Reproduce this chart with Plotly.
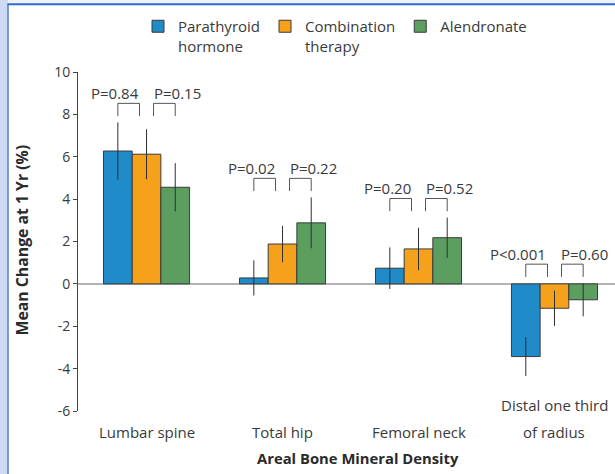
import plotly.graph_objects as go

# ---- data -----------------------------------------------------------------
categories = ["Lumbar spine", "Total hip", "Femoral neck", "Distal one third<br>of radius"]
series_names = ["Parathyroid<br>hormone", "Combination<br>therapy", "Alendronate"]

pth_values = [6.27, 0.28, 0.74, -3.43]
pth_errors = [1.35, 0.83, 0.98, 0.92]
combo_values = [6.12, 1.88, 1.65, -1.15]
combo_errors = [1.18, 0.86, 1.00, 0.83]
alen_values = [4.56, 2.88, 2.18, -0.75]
alen_errors = [1.14, 1.20, 0.95, 0.78]

p_first_pair = ["P=0.84", "P=0.02", "P=0.20", "P<0.001"]   # PTH vs combination
p_second_pair = ["P=0.15", "P=0.22", "P=0.52", "P=0.60"]  # combination vs alendronate

y_tick_values = [-6, -4, -2, 0, 2, 4, 6, 8, 10]
y_tick_labels = ["-6", "-4", "-2", "0", "2", "4", "6", "8", "10"]

x_title = "Areal Bone Mineral Density"
y_title = "Mean Change at 1 Yr (%)"

# ---- style ----------------------------------------------------------------
W, H = 615, 474
M_L, M_R, M_T, M_B = 78, 0, 72, 63
PW, PH = W - M_L - M_R, H - M_T - M_B
FONT = "Open Sans"
TXT = "#3a3a3a"
colors = ["#1f8bc9", "#f6a11c", "#5c9e5f"]
BARGAP = 0.367
bar_w = (1 - BARGAP) / 3
inset = 0.0515


def px_x(px):
    return (px - M_L) / PW


def px_y(py):
    return (H - M_B - py) / PH


series_values = [pth_values, combo_values, alen_values]
series_errors = [pth_errors, combo_errors, alen_errors]
xs = list(range(len(categories)))

fig = go.Figure()
for name, vals, errs, col in zip(series_names, series_values, series_errors, colors):
    fig.add_trace(go.Bar(
        x=xs, y=vals, name=name,
        marker=dict(color=col, line=dict(color="#3b3b3b", width=1)),
        error_y=dict(type="data", array=errs, visible=True,
                     color="#2f2f2f", thickness=1, width=0),
    ))

annotations = []
shapes = []

# category labels, bottom-aligned under each group (extra lines stack upward)
for i, label in enumerate(categories):
    lines = label.split("<br>")
    for k, line in enumerate(reversed(lines)):
        annotations.append(dict(
            x=i, xref="x", y=0, yref="paper", yanchor="middle",
            yshift=-20.7 + 26.7 * k, text=line, showarrow=False,
            font=dict(family=FONT, size=15, color=TXT)))

# significance brackets and P values
for i in xs:
    tops = [series_values[s][i] + series_errors[s][i] for s in range(3)]
    top = max(0, max(tops)) + 0.9
    leg = top - 0.6
    pairs = [(i - bar_w, i - inset), (i + inset, i + bar_w)]
    for (x0, x1) in pairs:
        shapes.append(dict(
            type="path", xref="x", yref="y",
            path=f"M {x0},{leg} L {x0},{top} L {x1},{top} L {x1},{leg}",
            line=dict(color="#555555", width=1)))
    annotations.append(dict(
        x=i - inset, y=top + 0.5, xref="x", yref="y", xanchor="right", yanchor="middle",
        xshift=1, text=p_first_pair[i], showarrow=False,
        font=dict(family=FONT, size=15, color=TXT)))
    annotations.append(dict(
        x=i + inset, y=top + 0.5, xref="x", yref="y", xanchor="left", yanchor="middle",
        xshift=-2, text=p_second_pair[i], showarrow=False,
        font=dict(family=FONT, size=15, color=TXT)))

# axis titles
annotations.append(dict(
    x=px_x(357.5), y=0, xref="paper", yref="paper", xanchor="center", yanchor="middle",
    yshift=-47, text=f"<b>{x_title}</b>", showarrow=False,
    font=dict(family=FONT, size=14.8, color="#2a2a2a")))
annotations.append(dict(
    x=px_x(21), y=px_y(240.5), xref="paper", yref="paper", xanchor="center",
    yanchor="middle", textangle=-90,
    text=f"<b>{y_title}</b>", showarrow=False,
    font=dict(family=FONT, size=15.8, color="#2a2a2a")))

# page frame: tinted left strip and blue border lines
shapes += [
    dict(type="rect", xref="paper", yref="paper", layer="above",
         x0=px_x(0), x1=px_x(8), y0=px_y(H), y1=px_y(0),
         fillcolor="#cddbf2", line=dict(width=0)),
    dict(type="rect", xref="paper", yref="paper", layer="above",
         x0=px_x(8), x1=px_x(W), y0=px_y(3.5), y1=px_y(0),
         fillcolor="#eef3fb", line=dict(width=0)),
    dict(type="line", xref="paper", yref="paper", layer="above",
         x0=px_x(8), x1=px_x(8), y0=px_y(H), y1=px_y(4),
         line=dict(color="#4f80d8", width=1.5)),
    dict(type="line", xref="paper", yref="paper", layer="above",
         x0=px_x(7.5), x1=px_x(W), y0=px_y(4.3), y1=px_y(4.3),
         line=dict(color="#2f68d0", width=2)),
]

fig.update_layout(
    width=W, height=H,
    margin=dict(l=M_L, r=M_R, t=M_T, b=M_B, pad=0),
    paper_bgcolor="white", plot_bgcolor="white",
    barmode="group", bargap=BARGAP, bargroupgap=0,
    font=dict(family=FONT, size=14, color=TXT),
    showlegend=True,
    legend=dict(orientation="h", x=px_x(138), xanchor="left",
                y=px_y(10), yanchor="top", valign="top",
                font=dict(family=FONT, size=15, color=TXT),
                bgcolor="rgba(0,0,0,0)", traceorder="normal"),
    xaxis=dict(range=[-0.504, 3.445], showticklabels=False, showgrid=False,
               zeroline=False, showline=False, ticks="", fixedrange=True),
    yaxis=dict(range=[-6, 10], tickvals=y_tick_values, ticktext=y_tick_labels,
               showgrid=False, showline=True, linecolor="#444444", linewidth=1,
               ticks="outside", ticklen=4, tickcolor="#444444",
               zeroline=True, zerolinecolor="#b4b4b4", zerolinewidth=2,
               tickfont=dict(family=FONT, size=14, color=TXT)),
    annotations=annotations, shapes=shapes,
)

fig.write_html("out.html")
